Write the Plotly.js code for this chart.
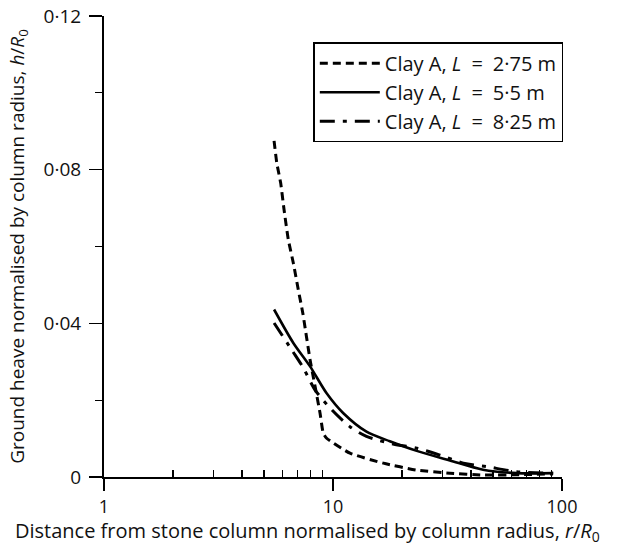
<!DOCTYPE html>
<html><head><meta charset="utf-8">
<script src="https://cdn.plot.ly/plotly-3.0.1.min.js"></script>
<style>body{margin:0;background:#fff}#c{width:620px;height:546px}</style>
</head><body><div id="c"></div>
<script>
// Clay A, L = 2.75 m (dashed)
const xA = [5.53, 5.68, 5.91, 6.11, 6.38, 6.71, 7.05, 7.38, 7.94, 8.35, 8.78, 9.07, 9.38, 11.86, 16.6, 23.2, 32.4, 45.2, 65, 91.3];
const yA = [0.0875, 0.0818, 0.0765, 0.0697, 0.0618, 0.0557, 0.0488, 0.0427, 0.0305, 0.0236, 0.0166, 0.0114, 0.0101, 0.0062, 0.0036, 0.0018, 0.001, 0.0005, 0.0006, 0.0008];
// Clay A, L = 5.5 m (solid)
const xB = [5.53, 6.71, 7.94, 9.38, 11.1, 14.0, 17.7, 23.2, 32.4, 45.2, 63.4, 91.5];
const yB = [0.0436, 0.0349, 0.0288, 0.0218, 0.0166, 0.0118, 0.0093, 0.0068, 0.0043, 0.0019, 0.001, 0.001];
// Clay A, L = 8.25 m (dash-dot)
const xC = [5.53, 6.6, 7.42, 8.34, 9.87, 11.86, 14.0, 18.3, 23.2, 29.3, 37.1, 46.9, 63.4, 91.5];
const yC = [0.0401, 0.0331, 0.0284, 0.0227, 0.0175, 0.0131, 0.0106, 0.0086, 0.0075, 0.0057, 0.0036, 0.0027, 0.0014, 0.001];
const names = ['Clay A, <i>L</i>\u2002=\u20022·75 m', 'Clay A, <i>L</i>\u2002=\u20025·5 m', 'Clay A, <i>L</i>\u2002=\u20028·25 m'];
const yTickVals = [0, 0.04, 0.08, 0.12];
const yTickText = ['0', '0·04', '0·08', '0·12'];
const xTickVals = [1, 10, 100];
const xTickText = ['1', '10', '100'];
const xMinor = [2,3,4,5,6,7,8,9,20,30,40,50,60,70,80,90];
const xTitle = 'Distance from stone column normalised by column radius, <i>r</i>/<i>R</i><sub>0</sub>';
const yTitle = 'Ground heave normalised by column radius, <i>h</i>/<i>R</i><sub>0</sub>';

const font = {family: '"Open Sans", "Noto Sans", sans-serif', color: '#111'};
const traces = [
  {x: xA, y: yA, name: names[0], mode: 'lines', line: {color: '#000', width: 3, dash: '8px,5px', shape: 'spline', smoothing: 0.5}},
  {x: xB, y: yB, name: names[1], mode: 'lines', line: {color: '#000', width: 2.6, shape: 'spline', smoothing: 0.8}},
  {x: xC, y: yC, name: names[2], mode: 'lines', line: {color: '#000', width: 3, dash: '15px,8px,4px,8px', shape: 'spline', smoothing: 0.8}}
];
const layout = {
  width: 620, height: 546,
  margin: {l: 104, r: 58, t: 16, b: 69},
  paper_bgcolor: '#fff', plot_bgcolor: '#fff',
  font: Object.assign({size: 18}, font),
  showlegend: true,
  legend: {x: 0.457, y: 0.943, xanchor: 'left', yanchor: 'top', bordercolor: '#000', borderwidth: 1.5,
           bgcolor: '#fff', font: Object.assign({size: 20}, font), tracegroupgap: 0, itemwidth: 60},
  xaxis: {type: 'log', range: [0, 2], showline: true, linecolor: '#000', linewidth: 2,
          showgrid: false, zeroline: false, ticks: 'outside', ticklen: 12, tickwidth: 1.5, tickcolor: '#000',
          tickvals: xTickVals, ticktext: xTickText, tickfont: Object.assign({size: 18}, font),
          minor: {tickvals: xMinor, ticks: 'inside', ticklen: 7, tickwidth: 1.3, tickcolor: '#000', showgrid: false}},
  yaxis: {range: [0, 0.12], showline: true, linecolor: '#000', linewidth: 2,
          showgrid: false, zeroline: false, ticks: 'outside', ticklen: 13, tickwidth: 1.5, tickcolor: '#000',
          tickvals: yTickVals, ticktext: yTickText, tickfont: Object.assign({size: 19}, font), ticklabelstandoff: 4,
          minor: {dtick: 0.02, ticks: 'outside', ticklen: 7, tickwidth: 1.3, tickcolor: '#000', showgrid: false},
          title: {text: yTitle, font: Object.assign({size: 19}, font), standoff: 14}},
  annotations: [
    {text: xTitle, xref: 'paper', yref: 'paper', x: 0.445, y: -0.119, xanchor: 'center', yanchor: 'middle',
     showarrow: false, font: Object.assign({size: 20}, font)}
  ]
};
Plotly.newPlot('c', traces, layout, {displayModeBar: false, staticPlot: true});
</script></body></html>
